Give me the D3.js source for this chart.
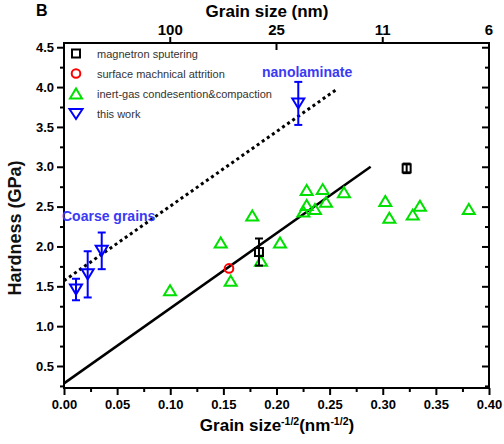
<!DOCTYPE html>
<html><head><meta charset="utf-8">
<script src="https://cdn.jsdelivr.net/npm/d3@7/dist/d3.min.js"></script>
<style>body{margin:0;background:#fff}svg{display:block}text{font-family:"Liberation Sans",Arial,sans-serif}</style>
</head><body><svg id="c" width="504" height="444"></svg>
<script>
// ---- data ----
const xTicksMajor = [0,0.05,0.10,0.15,0.20,0.25,0.30,0.35,0.40];
const xTickLabels = ["0.00","0.05","0.10","0.15","0.20","0.25","0.30","0.35","0.40"];
const yTicksMajor = [0.5,1.0,1.5,2.0,2.5,3.0,3.5,4.0,4.5];
const yTickLabels = ["0.5","1.0","1.5","2.0","2.5","3.0","3.5","4.0","4.5"];
const topTickPos = [0.1,0.2,0.3,0.4];
const topTickLabels = ["100","25","11","6"];
const legendLabels = ["magnetron sputering","surface machnical attrition","inert-gas condesention&compaction","this work"];

const magX = [0.1835,0.3225];
const magY = [1.93,2.98];
const magErr = [0.17,0.06];

const smaX = [0.1553];
const smaY = [1.725];

const igcX = [0.0998,0.1475,0.1569,0.1772,0.1854,0.2033,0.2284,0.2284,0.2253,0.2435,0.2362,0.2466,0.2635,0.3024,0.3062,0.3282,0.335,0.381];
const igcY = [1.45,2.05,1.57,2.39,1.82,2.05,2.71,2.52,2.44,2.72,2.47,2.56,2.68,2.57,2.36,2.40,2.51,2.47];

const workX = [0.0113,0.0223,0.0355,0.2205];
const workY = [1.46,1.65,1.945,3.795];
const workErr = [0.135,0.29,0.23,0.27];

const fitSolidX = [0,0.2886];
const fitSolidY = [0.282,3.0];
const fitDotX = [0,0.257];
const fitDotY = [1.57,3.975];

// ---- layout ----
const svg = d3.select("#c");
const L=64,R=489,T=43,B=388;
const x = d3.scaleLinear().domain([0,0.4]).range([L,R]);
const y = d3.scaleLinear().domain([0.224,4.553]).range([B,T]);
const font = '"Liberation Sans",Arial,sans-serif';
const GREEN="#00e000", BLUE="#0000ff", RED="#ff0000", TXTBLUE="#3a3af5";

// frame
svg.append("rect").attr("x",L).attr("y",T).attr("width",R-L).attr("height",B-T)
  .attr("fill","none").attr("stroke","#000").attr("stroke-width",2);

const minorX = d3.range(0.025,0.4,0.05);
const minorY = [0.25,0.75,1.25,1.75,2.25,2.75,3.25,3.75,4.25];

function styleAxis(g){ g.select(".domain").remove(); g.selectAll("line").attr("stroke","#000").attr("stroke-width",2); }

// bottom axis
svg.append("g").attr("transform",`translate(0,${B})`)
  .call(d3.axisBottom(x).tickValues(xTicksMajor).tickSize(7).tickPadding(5).tickFormat((d,i)=>xTickLabels[i]))
  .call(styleAxis)
  .call(g=>g.selectAll("text").attr("font-size",13).attr("font-weight","bold").attr("font-family",font).attr("fill","#000"));
svg.append("g").attr("transform",`translate(0,${B})`)
  .call(d3.axisBottom(x).tickValues(minorX).tickSize(4).tickFormat(""))
  .call(styleAxis);

// left axis
svg.append("g").attr("transform",`translate(${L},0)`)
  .call(d3.axisLeft(y).tickValues(yTicksMajor).tickSize(7).tickPadding(3).tickFormat((d,i)=>yTickLabels[i]))
  .call(styleAxis)
  .call(g=>g.selectAll("text").attr("font-size",13).attr("font-weight","bold").attr("font-family",font).attr("fill","#000"));
svg.append("g").attr("transform",`translate(${L},0)`)
  .call(d3.axisLeft(y).tickValues(minorY).tickSize(4).tickFormat(""))
  .call(styleAxis);

// right axis (inward ticks)
svg.append("g").attr("transform",`translate(${R},0)`)
  .call(d3.axisLeft(y).tickValues(yTicksMajor).tickSize(7).tickFormat(""))
  .call(styleAxis);
svg.append("g").attr("transform",`translate(${R},0)`)
  .call(d3.axisLeft(y).tickValues(minorY).tickSize(4).tickFormat(""))
  .call(styleAxis);

// top axis
const topG = svg.append("g");
topTickPos.forEach((v,i)=>{
  if(i<3){
    const up = (i!==1);
    topG.append("line").attr("x1",x(v)).attr("x2",x(v))
      .attr("y1",T).attr("y2",up?T-6:T+7).attr("stroke","#000").attr("stroke-width",2);
  }
  topG.append("text").attr("x",x(v)).attr("y",35).attr("text-anchor","middle")
    .attr("font-size",15).attr("font-weight","bold").text(topTickLabels[i]);
});

// titles
svg.append("text").attr("x",267).attr("y",17).attr("text-anchor","middle")
  .attr("font-size",17).attr("font-weight","bold").text("Grain size (nm)");
svg.append("text").attr("x",36).attr("y",16).attr("font-size",16).attr("font-weight","bold").text("B");
svg.append("text").attr("transform","translate(21,228) rotate(-90)").attr("text-anchor","middle")
  .attr("font-size",18).attr("font-weight","bold").attr("fill","#111").text("Hardness (GPa)");
const xl = svg.append("text").attr("x",277).attr("y",431).attr("text-anchor","middle")
  .attr("font-size",17).attr("font-weight","bold");
xl.append("tspan").text("Grain size");
xl.append("tspan").attr("font-size",10.5).attr("dy",-6).text("-1/2");
xl.append("tspan").attr("dy",6).text("(nm");
xl.append("tspan").attr("font-size",10.5).attr("dy",-6).text("-1/2");
xl.append("tspan").attr("dy",6).text(")");

// fit lines
const line = d3.line().x(d=>x(d[0])).y(d=>y(d[1]));
svg.append("path").attr("d",line(fitSolidX.map((v,i)=>[v,fitSolidY[i]])))
  .attr("stroke","#000").attr("stroke-width",2.5).attr("fill","none");
svg.append("path").attr("d",line(fitDotX.map((v,i)=>[v,fitDotY[i]])))
  .attr("stroke","#000").attr("stroke-width",3).attr("stroke-dasharray","3,3.2").attr("fill","none");

// markers
function triUp(g,cx,cy,w,h,col){
  g.append("path").attr("d",`M${cx-w/2},${cy+h/2}L${cx+w/2},${cy+h/2}L${cx},${cy-h/2}Z`)
   .attr("fill","none").attr("stroke",col).attr("stroke-width",2).attr("stroke-linejoin","miter");
}
function triDown(g,cx,cy,w,h,col){
  g.append("path").attr("d",`M${cx-w/2},${cy-h/2}L${cx+w/2},${cy-h/2}L${cx},${cy+h/2}Z`)
   .attr("fill","none").attr("stroke",col).attr("stroke-width",2);
}
function square(g,cx,cy,s,col){
  g.append("rect").attr("x",cx-s/2).attr("y",cy-s/2).attr("width",s).attr("height",s)
   .attr("fill","none").attr("stroke",col).attr("stroke-width",2);
}
function circle(g,cx,cy,r,col){
  g.append("circle").attr("cx",cx).attr("cy",cy).attr("r",r).attr("fill","none").attr("stroke",col).attr("stroke-width",2);
}
function errBar(g,cx,v,e,col,cap){
  const y1=y(v+e), y2=y(v-e);
  g.append("line").attr("x1",cx).attr("x2",cx).attr("y1",y1).attr("y2",y2).attr("stroke",col).attr("stroke-width",2);
  [y1,y2].forEach(yy=>g.append("line").attr("x1",cx-cap/2).attr("x2",cx+cap/2).attr("y1",yy).attr("y2",yy).attr("stroke",col).attr("stroke-width",2));
}

const pts = svg.append("g");
igcX.forEach((v,i)=>triUp(pts,x(v),y(igcY[i]),12,10,GREEN));
magX.forEach((v,i)=>{ errBar(pts,x(v),magY[i],magErr[i],"#000",8); square(pts,x(v),y(magY[i]),8,"#000"); });
smaX.forEach((v,i)=>circle(pts,x(v),y(smaY[i]),4.3,RED));
workX.forEach((v,i)=>{ errBar(pts,x(v),workY[i],workErr[i],BLUE,8); triDown(pts,x(v),y(workY[i]),12,10,BLUE); });

// annotations
svg.append("text").attr("x",62).attr("y",221).attr("font-size",14).attr("font-weight","bold")
  .attr("fill",TXTBLUE).text("Coarse grains");
svg.append("text").attr("x",262).attr("y",77).attr("font-size",14).attr("font-weight","bold")
  .attr("fill",TXTBLUE).text("nanolaminate");

// legend
const lg = svg.append("g");
const rows=[53.5,73.5,93.5,114];
square(lg,76,rows[0],8,"#000");
circle(lg,76,rows[1],4.3,RED);
triUp(lg,76,rows[2],12,10,GREEN);
triDown(lg,76,rows[3],13,10,BLUE);
legendLabels.forEach((t,i)=>lg.append("text").attr("x",97).attr("y",rows[i]+4).attr("font-size",11).attr("fill","#333").text(t));
</script></body></html>
